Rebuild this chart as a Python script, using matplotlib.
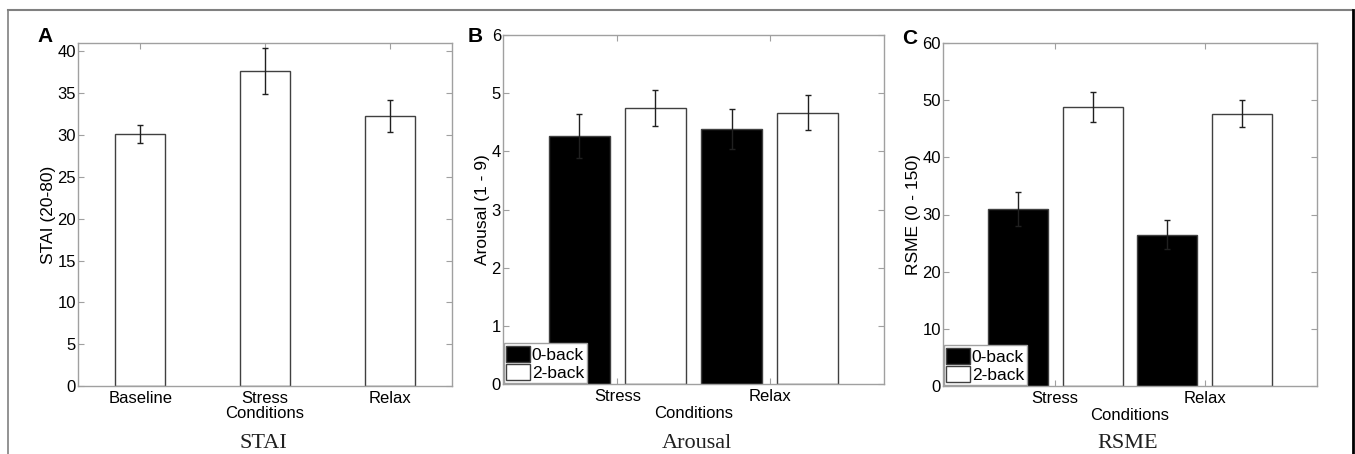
import matplotlib
matplotlib.use("Agg")
import matplotlib.pyplot as plt
from matplotlib.lines import Line2D
from matplotlib.patches import Patch
import numpy as np

plt.rcParams['font.family'] = ['Liberation Sans', 'DejaVu Sans']

# ---- data ----
stai_categories = ["Baseline", "Stress", "Relax"]
stai_values = [30.1, 37.6, 32.3]
stai_errors = [1.05, 2.75, 1.9]

conditions = ["Stress", "Relax"]
series_names = ["0-back", "2-back"]
arousal_0back = [4.26, 4.38]
arousal_0back_err = [0.38, 0.34]
arousal_2back = [4.74, 4.66]
arousal_2back_err = [0.31, 0.30]

rsme_0back = [31.0, 26.5]
rsme_0back_err = [3.0, 2.5]
rsme_2back = [48.8, 47.6]
rsme_2back_err = [2.6, 2.35]

W, H = 1355, 454
fig = plt.figure(figsize=(W / 100, H / 100), dpi=100)

spine_c = '#a0a0a0'
edge_c = '#404040'
fs = 12
fs_lab = 12.5

def style(ax):
    for s in ax.spines.values():
        s.set_color(spine_c)
        s.set_linewidth(1.0)
    ax.tick_params(direction='in', length=4, width=0.8, color=spine_c,
                   top=True, right=True, labelsize=fs)
    ax.tick_params(axis='y', pad=1.5)
    ax.tick_params(axis='x', pad=3.5)

def px_axes(l, t, r, b):
    return fig.add_axes([l / W, 1 - b / H, (r - l) / W, (b - t) / H])

# ---- Panel A ----
axA = px_axes(78, 43, 452, 386)
xa = np.arange(1, len(stai_categories) + 1)
axA.bar(xa, stai_values, width=0.4, color='white', edgecolor=edge_c, linewidth=1.0, zorder=2)
axA.errorbar(xa, stai_values, yerr=stai_errors, fmt='none', ecolor='#202020',
             elinewidth=1.0, capsize=2.5, capthick=1.0, zorder=3)
axA.set_xlim(0.5, 3.5)
axA.set_ylim(0, 41)
axA.set_yticks(np.arange(0, 41, 5))
axA.set_xticks(xa)
axA.set_xticklabels(stai_categories)
axA.set_ylabel("STAI (20-80)", fontsize=fs_lab, labelpad=1)
axA.set_xlabel("Conditions", fontsize=fs, labelpad=0)
style(axA)

def grouped(ax, v0, e0, v1, e1, ylim, yticks):
    x = np.arange(1, len(conditions) + 1)
    off = 0.25
    ax.bar(x - off, v0, width=0.4, color='black', edgecolor=edge_c, linewidth=1.0, zorder=2)
    ax.bar(x + off, v1, width=0.4, color='white', edgecolor=edge_c, linewidth=1.0, zorder=2)
    ax.errorbar(x - off, v0, yerr=e0, fmt='none', ecolor='#202020',
                elinewidth=1.0, capsize=2.5, capthick=1.0, zorder=3)
    ax.errorbar(x + off, v1, yerr=e1, fmt='none', ecolor='#202020',
                elinewidth=1.0, capsize=2.5, capthick=1.0, zorder=3)
    ax.set_xlim(0.25, 2.75)
    ax.set_ylim(*ylim)
    ax.set_yticks(yticks)
    ax.set_xticks(x)
    ax.set_xticklabels(conditions)
    ax.set_xlabel("Conditions", fontsize=fs, labelpad=1.5)
    style(ax)
    handles = [Patch(facecolor='black', edgecolor=edge_c),
               Patch(facecolor='white', edgecolor=edge_c)]
    leg = ax.legend(handles, series_names, loc='lower left', fontsize=fs_lab,
                    frameon=True, fancybox=False, framealpha=1, edgecolor=spine_c,
                    borderaxespad=0.05, borderpad=0.15, handlelength=1.35,
                    handleheight=1.05, handletextpad=0.1, labelspacing=0.05)
    leg.get_frame().set_linewidth(1.0)
    leg.set_zorder(5)

# ---- Panel B ----
axB = px_axes(503, 35, 884, 384)
grouped(axB, arousal_0back, arousal_0back_err, arousal_2back, arousal_2back_err,
        (0, 6), np.arange(0, 7, 1))
axB.set_ylabel("Arousal (1 - 9)", fontsize=fs_lab, labelpad=1)

# ---- Panel C ----
axC = px_axes(943, 43, 1317, 386)
grouped(axC, rsme_0back, rsme_0back_err, rsme_2back, rsme_2back_err,
        (0, 60), np.arange(0, 61, 10))
axC.set_ylabel("RSME (0 - 150)", fontsize=fs_lab, labelpad=1)

# panel letters
for lab, x, y in [("A", 45, 37), ("B", 475, 36), ("C", 910, 38)]:
    fig.text(x / W, 1 - y / H, lab, fontsize=15, fontweight='bold',
             ha='center', va='center')

# captions
for lab, x in [("STAI", 263), ("Arousal", 697), ("RSME", 1128)]:
    fig.text(x / W, 1 - 444 / H, lab, fontsize=16, family='Liberation Serif',
             ha='center', va='center', color='#202020')

# outer frame
fig.add_artist(Line2D([8 / W, 1352 / W], [1 - 10 / H, 1 - 10 / H],
                      transform=fig.transFigure, color='#808080', linewidth=1.5))
fig.add_artist(Line2D([8 / W, 8 / W], [1 - 10 / H, 0],
                      transform=fig.transFigure, color='#808080', linewidth=1.2))
fig.add_artist(Line2D([1352.5 / W, 1352.5 / W], [1 - 10 / H, 0],
                      transform=fig.transFigure, color='black', linewidth=2))

fig.savefig("out.png", dpi=100)
